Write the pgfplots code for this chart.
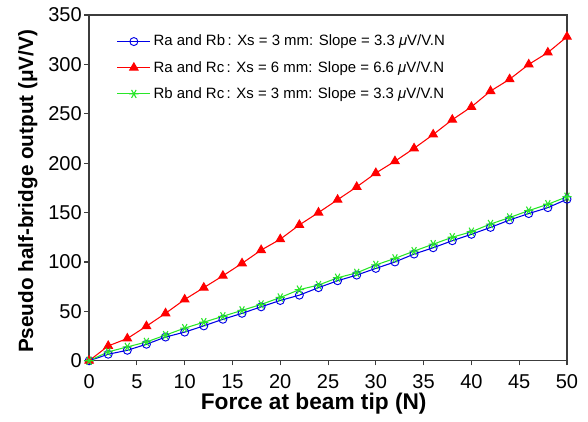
\documentclass[border=0pt]{standalone}
\usepackage{fontspec}
\setmainfont{Liberation Sans}
\usepackage{pgfplots}
\pgfplotsset{compat=1.18}

\definecolor{serA}{RGB}{0,0,230}
\definecolor{serB}{RGB}{255,0,0}
\definecolor{serC}{RGB}{40,230,40}
\definecolor{axgray}{RGB}{60,60,60}

\begin{document}
\begin{tikzpicture}
\begin{axis}[
  width=358pt, height=259pt,
  scale only axis,
  xmin=0, xmax=50, ymin=0, ymax=350,
  xtick={0,5,...,50}, ytick={0,50,...,350},
  tick align=outside, xtick pos=left, ytick pos=left,
  major tick length=3.5pt,
  axis line style={line width=1pt, axgray},
  every tick/.style={axgray, line width=0.8pt},
  /pgf/number format/assume math mode=true,
  tick label style={font=\fontsize{15}{17}\selectfont},
  yticklabel style={xshift=1.5pt},
  xticklabel style={yshift=-3.5pt},
  xlabel={\textbf{Force at beam tip (N)}},
  ylabel={\textbf{Pseudo half-bridge output (μV/V)}},
  xlabel style={font=\fontsize{17}{19}\selectfont, at={(axis description cs:0.47,-0.124)}, anchor=center},
  ylabel style={font=\fontsize{15.5}{18}\selectfont, at={(axis description cs:-0.128,0.49)}, anchor=center},
  legend style={draw=none, fill=none, at={(0.049,0.958)}, anchor=north west,
    font=\fontsize{11.2}{13}\selectfont, row sep=6pt},
  legend cell align=left,
  legend image code/.code={\draw[mark repeat=2, mark phase=2] plot coordinates {(0pt,0pt) (12.4pt,0pt) (24.8pt,0pt)};},
  clip=false,
]
\addplot[serA, line width=0.8pt, mark=o, mark size=3pt, mark options={line width=0.7pt}] coordinates {
(0,0) (2,6.6) (4,10.6) (6,16.7) (8,24) (10,29) (12,35.3) (14,42) (16,48) (18,54.6)
(20,61) (22,66.4) (24,74) (26,81) (28,86.7) (30,93.5) (32,100) (34,108) (36,114.4)
(38,121.5) (40,128) (42,135) (44,142.5) (46,149) (48,155) (50,163.5)};
\addlegendentry{Ra and Rb\,: Xs = 3 mm: Slope = 3.3 \textit{μ}V/V.N}
\addplot[serB, line width=0.8pt, mark=triangle*, mark size=3.6pt] coordinates {
(0,0) (2,15) (4,22.5) (6,35) (8,48) (10,62) (12,74) (14,86) (16,98.6) (18,112)
(20,123) (22,137.5) (24,150) (26,163) (28,176) (30,190) (32,202) (34,215) (36,229)
(38,244) (40,257) (42,273) (44,285) (46,300) (48,312) (50,328)};
\addlegendentry{Ra and Rc\,: Xs = 6 mm: Slope = 6.6 \textit{μ}V/V.N}
\addplot[serC, line width=0.8pt, mark=asterisk, mark size=3.5pt, mark options={rotate=90, line width=0.8pt}] coordinates {
(0,0) (2,9) (4,14) (6,19) (8,26) (10,33) (12,39) (14,45) (16,51) (18,57)
(20,64) (22,72) (24,76.6) (26,84) (28,89) (30,97) (32,103.6) (34,111) (36,118)
(38,125) (40,130.6) (42,138.4) (44,145) (46,152) (48,158.4) (50,166)};
\addlegendentry{Rb and Rc\,: Xs = 3 mm: Slope = 3.3 \textit{μ}V/V.N}
\end{axis}
\pgfresetboundingbox
\path (current axis.south west) ++(-66.75pt,-45.75pt) coordinate (bbA);
\path (current axis.north east) ++(15.75pt,11.25pt) coordinate (bbB);
\path (bbA) rectangle (bbB);
\end{tikzpicture}
\end{document}
